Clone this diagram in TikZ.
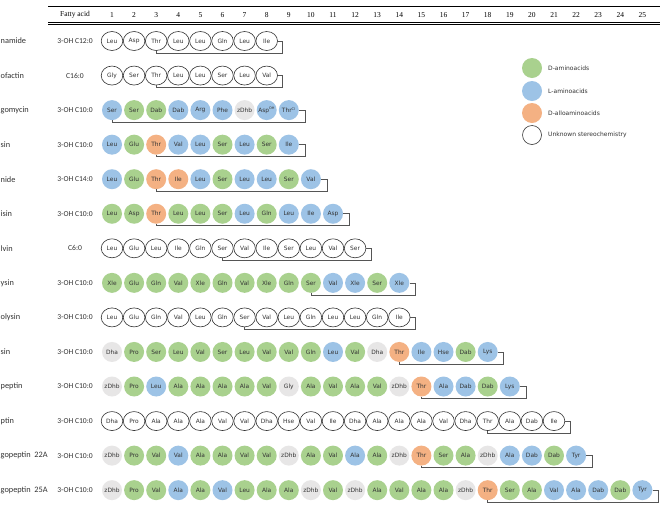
\documentclass[tikz,border=0pt]{standalone}
\usepackage{fontspec}
\setmainfont{Carlito}
\newfontfamily\dvfont{DejaVu Sans}
\newfontfamily\tmsfont{Liberation Serif}
\usetikzlibrary{shapes.geometric,calc}
\definecolor{cG}{HTML}{A9D18E}
\definecolor{cB}{HTML}{9DC3E6}
\definecolor{cO}{HTML}{F4B183}
\definecolor{cZ}{HTML}{E7E6E6}
\definecolor{txt}{HTML}{333333}
\definecolor{ln}{HTML}{555555}
\tikzset{
  x=1pt,y=-1pt,
  resbase/.style={inner sep=0pt,font=\dvfont\fontsize{5.9}{6}\selectfont,text=txt},
  resG/.style={resbase,circle,fill=cG,minimum size=20pt},
  resB/.style={resbase,circle,fill=cB,minimum size=20pt},
  resO/.style={resbase,circle,fill=cO,minimum size=20pt},
  resZ/.style={resbase,circle,fill=cZ,minimum size=20pt},
  resW/.style={resbase,ellipse,draw=black!80,line width=0.6pt,fill=white,minimum width=21.6pt,minimum height=19pt},
  ringline/.style={draw=ln,line width=0.6pt},
  rowlab/.style={anchor=west,inner sep=0pt,font=\fontsize{8.3}{9}\selectfont,text=txt},
  fattylab/.style={inner sep=0pt,font=\fontsize{7.6}{8}\selectfont,text=txt},
  headlab/.style={inner sep=0pt,font=\tmsfont\fontsize{7.5}{8}\selectfont},
  legtext/.style={anchor=west,inner sep=0pt,font=\dvfont\fontsize{6}{7}\selectfont,text=txt},
}
\newcommand\resrow[2]{%
  \foreach \s/\t [count=\i] in {#2} {
    \node[res\s] (r#1c\i) at ({112+(\i-1)*22.1},{41+(#1-1)*34.55}) {\t};
  }}
\newcommand\ringto[3]{%
  \draw[ringline] (r#1c#2.east) -| ($(r#1c#2.center)+(16,12)$) -| (r#1c#3.south);}
\newcommand\rowlabel[3]{%
  \node[rowlab] (lab#1) at (0.5,{41+(#1-1)*34.55}) {#2};
  \node[fattylab] (fa#1) at (75,{41+(#1-1)*34.55}) {#3};}
\begin{document}
\begin{tikzpicture}
\fill[white] (0,0) rectangle (660,512);
\useasboundingbox (0,0) rectangle (660,512);
% header
\draw[line width=0.6pt] (48,6) -- (660,6);
\draw[line width=0.7pt] (48,22.2) -- (660,22.2);
\draw[line width=0.7pt] (48,24.2) -- (660,24.2);
\node[headlab] (hfa) at (75,15) {Fatty acid};
\foreach \k in {1,...,25} {
  \node[headlab] (h\k) at ({112+(\k-1)*22.1},15) {\k};
}
% legend
\node[circle,fill=cG,minimum size=20pt,inner sep=0pt] (lg1) at (532,68) {};
\node[circle,fill=cB,minimum size=20pt,inner sep=0pt] (lg2) at (532,91) {};
\node[circle,fill=cO,minimum size=20pt,inner sep=0pt] (lg3) at (532,113) {};
\node[circle,draw=black!80,line width=0.6pt,minimum size=19pt,inner sep=0pt] (lg4) at (532,135) {};
\node[legtext] (lt1) at (548,68) {D-aminoacids};
\node[legtext] (lt2) at (548,91) {L-aminoacids};
\node[legtext] (lt3) at (548,113) {D-alloaminoacids};
\node[legtext] (lt4) at (548,135) {Unknown stereochemistry};
% rows
\rowlabel{1}{namide}{3-OH C12:0}
\resrow{1}{W/Leu,W/Asp,W/Thr,W/Leu,W/Leu,W/Gln,W/Leu,W/Ile}
\ringto{1}{8}{3}
\rowlabel{2}{ofactin}{C16:0}
\resrow{2}{W/Gly,W/Ser,W/Thr,W/Leu,W/Leu,W/Ser,W/Leu,W/Val}
\ringto{2}{8}{3}
\rowlabel{3}{gomycin}{3-OH C10:0}
\resrow{3}{B/Ser,G/Ser,G/Dab,B/Dab,B/Arg,B/Phe,Z/zDhb,B/Asp\textsuperscript{\fontsize{3.5}{4}\selectfont OH},B/Thr\textsuperscript{\fontsize{3.5}{4}\selectfont Cl}}
\ringto{3}{9}{1}
\rowlabel{4}{sin}{3-OH C10:0}
\resrow{4}{B/Leu,G/Glu,O/Thr,B/Val,B/Leu,G/Ser,B/Leu,G/Ser,B/Ile}
\ringto{4}{9}{3}
\rowlabel{5}{nide}{3-OH C14:0}
\resrow{5}{B/Leu,G/Glu,O/Thr,O/Ile,B/Leu,G/Ser,B/Leu,B/Leu,G/Ser,B/Val}
\ringto{5}{10}{3}
\rowlabel{6}{isin}{3-OH C10:0}
\resrow{6}{G/Leu,G/Asp,O/Thr,G/Leu,G/Leu,G/Ser,B/Leu,G/Gln,B/Leu,B/Ile,B/Asp}
\ringto{6}{11}{3}
\rowlabel{7}{lvin}{C6:0}
\resrow{7}{W/Leu,W/Glu,W/Leu,W/Ile,W/Gln,W/Ser,W/Val,W/Ile,W/Ser,W/Leu,W/Val,W/Ser}
\ringto{7}{12}{6}
\rowlabel{8}{ysin}{3-OH C10:0}
\resrow{8}{G/Xle,G/Glu,G/Gln,G/Val,G/Xle,G/Gln,G/Val,G/Xle,G/Gln,G/Ser,B/Val,B/Xle,G/Ser,B/Xle}
\ringto{8}{14}{10}
\rowlabel{9}{olysin}{3-OH C10:0}
\resrow{9}{W/Leu,W/Glu,W/Gln,W/Val,W/Leu,W/Gln,W/Ser,W/Val,W/Leu,W/Gln,W/Leu,W/Leu,W/Gln,W/Ile}
\ringto{9}{14}{7}
\rowlabel{10}{sin}{3-OH C10:0}
\resrow{10}{Z/Dha,G/Pro,G/Ser,G/Leu,G/Val,G/Ser,G/Leu,G/Val,G/Val,G/Gln,B/Leu,G/Val,Z/Dha,O/Thr,B/Ile,B/Hse,G/Dab,B/Lys}
\ringto{10}{18}{14}
\rowlabel{11}{peptin}{3-OH C10:0}
\resrow{11}{Z/zDhb,G/Pro,B/Leu,G/Ala,G/Ala,G/Ala,G/Ala,G/Val,Z/Gly,G/Ala,G/Val,G/Ala,G/Val,Z/zDhb,O/Thr,B/Ala,B/Dab,G/Dab,B/Lys}
\ringto{11}{19}{15}
\rowlabel{12}{ptin}{3-OH C10:0}
\resrow{12}{W/Dha,W/Pro,W/Ala,W/Ala,W/Ala,W/Val,W/Val,W/Dha,W/Hse,W/Val,W/Ile,W/Dha,W/Ala,W/Ala,W/Ala,W/Val,W/Dha,W/Thr,W/Ala,W/Dab,W/Ile}
\ringto{12}{21}{18}
\rowlabel{13}{gopeptin\ \ 22A}{3-OH C10:0}
\resrow{13}{Z/zDhb,G/Pro,G/Val,B/Val,G/Ala,G/Ala,G/Val,G/Val,Z/zDhb,G/Ala,G/Val,B/Ala,G/Ala,Z/zDhb,O/Thr,G/Ser,G/Ala,Z/zDhb,B/Ala,B/Dab,G/Dab,B/Tyr}
\ringto{13}{22}{15}
\rowlabel{14}{gopeptin\ \ 25A}{3-OH C10:0}
\resrow{14}{Z/zDhb,G/Pro,G/Val,B/Ala,G/Ala,B/Val,G/Leu,G/Ala,G/Ala,Z/zDhb,G/Val,Z/zDhb,G/Ala,G/Val,G/Ala,G/Ala,Z/zDhb,O/Thr,G/Ser,G/Ala,B/Val,B/Ala,B/Dab,G/Dab,B/Tyr}
\ringto{14}{25}{18}
\end{tikzpicture}
\end{document}
